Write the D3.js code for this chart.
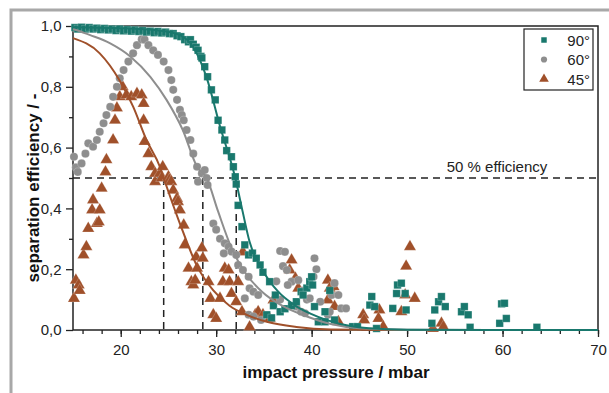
<!DOCTYPE html>
<html><head><meta charset="utf-8">
<script src="https://cdn.jsdelivr.net/npm/d3@7"></script>
<style>body{margin:0;background:#fff}svg{display:block}text{font-family:"Liberation Sans",Arial,sans-serif}</style>
</head><body>
<svg id="c" width="609" height="393"></svg>
<script>
const xTicks=[20,30,40,50,60,70];
const yTicks=[0,0.2,0.4,0.6,0.8,1.0];
const seriesNames=["90°","60°","45°"];
const points90=[[15.2,0.995],[15.5,0.99],[15.9,0.996],[16.3,0.99],[16.7,0.995],[17.1,0.99],[17.5,0.993],[17.9,0.988],[18.3,0.992],[18.7,0.987],[19.1,0.99],[19.5,0.985],[19.9,0.99],[20.3,0.984],[20.7,0.988],[21.1,0.983],[21.5,0.987],[21.9,0.982],[22.3,0.985],[22.7,0.98],[23.1,0.983],[23.5,0.978],[23.9,0.982],[24.3,0.977],[24.7,0.98],[25.1,0.975],[25.5,0.975],[25.9,0.968],[26.3,0.965],[26.7,0.955],[27.1,0.948],[27.3,0.955],[27.6,0.94],[27.9,0.93],[28.1,0.92],[28.4,0.9],[28.5,0.895],[28.8,0.866],[29.1,0.833],[29.5,0.79],[29.9,0.757],[30.2,0.69],[30.6,0.658],[30.9,0.625],[31.1,0.59],[31.6,0.57],[31.8,0.537],[32.0,0.504],[32.1,0.48],[32.3,0.41],[32.7,0.34],[33.0,0.28],[33.4,0.247],[33.8,0.253],[34.2,0.236],[34.6,0.214],[34.9,0.19],[35.6,0.159],[36.2,0.115],[36.0,0.08],[35.3,0.05],[35.8,0.04],[36.7,0.06],[37.2,0.07],[37.9,0.08],[38.4,0.093],[38.9,0.126],[39.5,0.138],[39.8,0.159],[40.0,0.175],[40.1,0.148],[39.1,0.115],[40.3,0.077],[40.7,0.027],[41.4,0.027],[41.4,0.06],[41.9,0.13],[42.4,0.033],[44.3,0.011],[44.8,0.011],[46.3,0.11],[46.1,0.082],[46.6,0.077],[46.8,0.005],[48.5,0.071],[48.9,0.12],[49.0,0.148],[49.4,0.154],[49.8,0.12],[49.9,0.066],[52.6,0.022],[52.9,0.066],[53.3,0.093],[53.6,0.11],[54.0,0.077],[55.7,0.06],[56.0,0.077],[56.4,0.05],[56.6,0.009],[59.7,0.022],[59.9,0.086],[60.2,0.088],[60.4,0.038],[63.6,0.009]];
const points60=[[15.1,0.57],[15.3,0.535],[15.5,0.52],[15.9,0.548],[16.3,0.58],[16.6,0.614],[17.1,0.603],[17.5,0.625],[17.8,0.652],[18.2,0.68],[18.5,0.707],[18.9,0.734],[19.2,0.767],[19.6,0.8],[19.9,0.828],[20.3,0.855],[20.8,0.883],[21.3,0.91],[21.7,0.937],[22.2,0.956],[22.5,0.955],[22.9,0.937],[23.4,0.92],[23.9,0.905],[24.5,0.883],[25.0,0.855],[25.3,0.822],[25.5,0.79],[25.9,0.757],[26.2,0.724],[26.4,0.707],[26.6,0.69],[26.9,0.658],[27.3,0.625],[27.6,0.58],[28.0,0.537],[28.5,0.515],[28.8,0.526],[29.0,0.5],[28.1,0.488],[29.1,0.477],[29.7,0.35],[30.0,0.33],[30.4,0.3],[30.9,0.285],[31.3,0.274],[31.6,0.258],[30.8,0.252],[32.1,0.247],[32.3,0.214],[32.8,0.197],[33.4,0.175],[33.5,0.137],[33.9,0.126],[33.0,0.104],[34.4,0.115],[33.4,0.05],[33.9,0.044],[34.7,0.033],[36.3,0.16],[36.7,0.26],[37.2,0.257],[37.0,0.21],[37.4,0.197],[37.9,0.159],[37.5,0.148],[36.7,0.1],[38.6,0.164],[39.1,0.13],[39.5,0.1],[38.4,0.077],[38.9,0.06],[39.3,0.055],[39.8,0.104],[40.3,0.236],[40.5,0.2],[40.2,0.175],[40.9,0.093],[41.7,0.05],[41.9,0.06],[42.1,0.115],[42.4,0.154],[42.8,0.115],[43.1,0.071],[43.6,0.071]];
const points45=[[15.1,0.104],[15.3,0.164],[15.6,0.148],[15.7,0.13],[16.1,0.247],[16.4,0.274],[16.6,0.334],[17.0,0.395],[17.1,0.428],[17.5,0.35],[17.7,0.355],[17.8,0.395],[18.0,0.466],[18.4,0.52],[18.5,0.56],[19.2,0.625],[19.4,0.69],[19.6,0.73],[19.9,0.767],[20.2,0.8],[20.6,0.773],[21.1,0.767],[21.7,0.778],[22.2,0.773],[22.4,0.745],[22.4,0.69],[22.5,0.62],[22.9,0.58],[23.2,0.537],[23.6,0.515],[23.6,0.488],[24.1,0.515],[24.3,0.5],[24.4,0.537],[25.0,0.504],[25.1,0.493],[25.3,0.488],[25.5,0.46],[25.9,0.433],[26.0,0.422],[26.2,0.395],[26.6,0.345],[26.7,0.28],[27.1,0.203],[27.4,0.159],[27.6,0.148],[27.8,0.164],[27.9,0.24],[28.0,0.203],[28.5,0.27],[28.6,0.236],[29.2,0.159],[29.4,0.104],[29.7,0.05],[30.0,0.038],[30.4,0.104],[30.7,0.159],[30.9,0.203],[31.3,0.197],[31.4,0.159],[31.6,0.12],[32.1,0.093],[32.3,0.159],[32.7,0.06],[32.8,0.257],[33.5,0.01],[34.1,0.05],[34.4,0.06],[34.9,0.05],[35.6,0.038],[36.0,0.099],[37.7,0.197],[37.9,0.23],[38.3,0.17],[38.6,0.137],[41.7,0.164],[41.9,0.137],[42.3,0.142],[41.7,0.099],[42.4,0.077],[42.8,0.027],[45.4,0.05],[45.5,0.033],[47.1,0.066],[47.0,0.038],[47.5,0.011],[49.4,0.06],[49.8,0.115],[49.9,0.21],[50.3,0.274],[50.8,0.104],[52.7,0.005],[53.6,0.022],[53.8,0.01]];
const fit90=[[15,0.996],[20,0.993],[24,0.985],[26.2,0.97],[27.6,0.93],[29,0.83],[30.4,0.67],[32,0.5],[32.7,0.4],[33.5,0.29],[34.8,0.2],[36.5,0.126],[38.2,0.082],[40,0.052],[43,0.02],[46,0.006],[50,0.001],[70,0]];
const fit60=[[15,0.99],[16.8,0.97],[18.9,0.943],[21,0.9],[23.1,0.833],[24.8,0.757],[26.5,0.658],[28,0.537],[29,0.5],[30.2,0.39],[31.6,0.27],[33,0.19],[34.8,0.126],[36.9,0.08],[39.3,0.047],[42,0.02],[45,0.006],[50,0.001],[70,0]];
const fit45=[[15,0.96],[17.8,0.91],[19.9,0.82],[21.3,0.735],[22.7,0.625],[24.1,0.537],[24.5,0.5],[26.2,0.35],[28,0.21],[29.7,0.13],[31.4,0.08],[33.2,0.05],[35.3,0.027],[38.4,0.01],[42,0.002],[50,0],[70,0]];
const thresholds=[24.5,28.6,32.1];
const threshold=0.5;

const col={"90°":"#19786d","60°":"#8e8e8e","45°":"#a0502a"};
const svg=d3.select("#c");
const L=73,R=598,T=26,B=330;
const x=d3.scaleLinear().domain([15,70]).range([L,R]);
const y=d3.scaleLinear().domain([0,1]).range([B,T]);

// outer gray frame
svg.append("path").attr("d","M11,393 L11,10 L609,10").attr("fill","none").attr("stroke","#a8a8a8").attr("stroke-width",3);

// axes
const fmt=d=>d3.format(".1f")(d).replace(".",",");
const gx=svg.append("g").attr("transform",`translate(0,${B})`);
gx.call(d3.axisBottom(x).tickValues(d3.range(16,71,2)).tickSize(4).tickFormat(""));
const gx2=svg.append("g").attr("transform",`translate(0,${B})`);
gx2.call(d3.axisBottom(x).tickValues(xTicks).tickSize(7).tickFormat(d3.format("d")));
const gy=svg.append("g").attr("transform",`translate(${L},0)`);
gy.call(d3.axisLeft(y).tickValues(d3.range(0.1,1,0.2)).tickSize(4).tickFormat(""));
const gy2=svg.append("g").attr("transform",`translate(${L},0)`);
gy2.call(d3.axisLeft(y).tickValues(yTicks).tickSize(7).tickFormat(fmt));
svg.selectAll(".domain").remove();
svg.selectAll(".tick line").attr("stroke","#222").attr("stroke-width",1.3);
svg.selectAll(".tick text").attr("font-size",15).attr("fill","#222").attr("font-family","Liberation Sans, Arial, sans-serif");
gx2.selectAll(".tick text").attr("dy","1.0em");
gy2.selectAll(".tick text").attr("dx","-0.1em");

svg.append("rect").attr("x",L).attr("y",T).attr("width",R-L).attr("height",B-T).attr("fill","none").attr("stroke","#222").attr("stroke-width",1.5);

// dashed lines
svg.append("line").attr("x1",L).attr("x2",R).attr("y1",y(threshold)).attr("y2",y(threshold)).attr("stroke","#222").attr("stroke-width",1.5).attr("stroke-dasharray","7,5");
thresholds.forEach(t=>svg.append("line").attr("x1",x(t)).attr("x2",x(t)).attr("y1",y(threshold)).attr("y2",B).attr("stroke","#222").attr("stroke-width",1.5).attr("stroke-dasharray","7,5"));
svg.append("text").attr("x",497).attr("y",y(threshold)-6).attr("text-anchor","middle").attr("font-size",15).attr("fill","#222").text("50 % efficiency");

// points
const sym={"90°":d3.symbolSquare,"60°":d3.symbolCircle,"45°":d3.symbolTriangle};
const sz={"90°":56,"60°":52,"45°":64};
const data={"90°":points90,"60°":points60,"45°":points45};
["45°","60°","90°"].forEach(k=>{
  svg.append("g").selectAll("path").data(data[k]).join("path")
    .attr("transform",d=>`translate(${x(d[0])},${y(d[1])})`)
    .attr("d",d3.symbol(sym[k],sz[k])).attr("fill",col[k]).attr("stroke","#fff").attr("stroke-opacity",0.35).attr("stroke-width",0.6);
});
// fits
const line=d3.line().x(d=>x(d[0])).y(d=>y(d[1])).curve(d3.curveMonotoneX);
[["45°",fit45],["60°",fit60],["90°",fit90]].forEach(([k,f])=>{
  svg.append("path").datum(f).attr("d",line).attr("fill","none").attr("stroke",col[k]).attr("stroke-width",2);
});

// legend
svg.append("rect").attr("x",524).attr("y",29).attr("width",69).attr("height",61).attr("fill","#fff").attr("stroke","#222").attr("stroke-width",1.2);
seriesNames.forEach((k,i)=>{
  const yy=40+i*19.5;
  svg.append("path").attr("transform",`translate(544,${yy})`).attr("d",d3.symbol(sym[k],k==="45°"?40:30)).attr("fill",col[k]);
  svg.append("text").attr("x",590).attr("y",yy+5.5).attr("text-anchor","end").attr("font-size",15).attr("fill","#222").text(k);
});

// axis labels
svg.append("text").attr("x",336).attr("y",378).attr("text-anchor","middle").attr("font-size",17).attr("font-weight","bold").attr("fill","#111").text("impact pressure / mbar");
svg.append("text").attr("transform","translate(39,188) rotate(-90)").attr("text-anchor","middle").attr("font-size",17).attr("font-weight","bold").attr("fill","#111").text("separation efficiency / -");
</script>
</body></html>
